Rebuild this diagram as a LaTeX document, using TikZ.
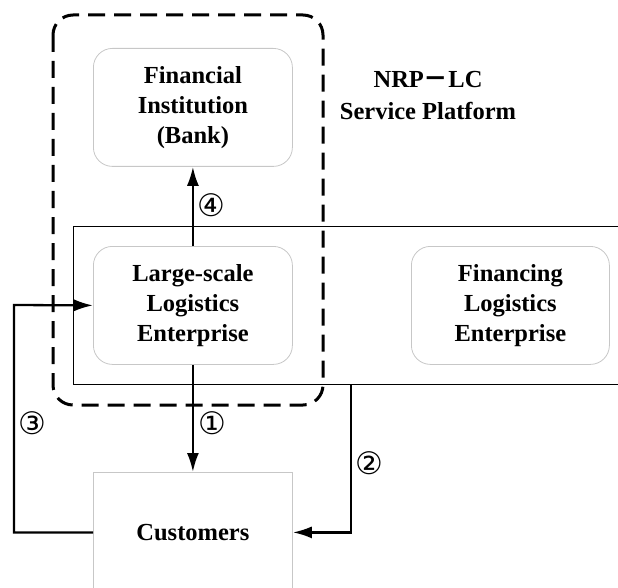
\documentclass[tikz,border=0pt]{standalone}
\usepackage{fontspec}
\setmainfont{Liberation Serif}
\newfontfamily\circfont{DejaVu Sans}
\newfontfamily\cjkfont{Noto Sans CJK SC}
\usetikzlibrary{arrows.meta}
\begin{document}
\begin{tikzpicture}[x=1pt,y=-1pt,
  lbl/.style={font=\fontsize{24.5}{30}\selectfont\bfseries, align=center},
  rbox/.style={draw=black!22, line width=0.8pt, rounded corners=19pt, inner sep=0pt, anchor=north west, lbl},
  arr/.style={line width=2.3pt, -{Latex[length=19pt,width=12pt]}},
  num/.style={font=\circfont\fontsize{31}{31}\selectfont, inner sep=0pt},
  dashbox/.style={line width=3pt, dash pattern=on 17pt off 9pt, rounded corners=20pt}]
\clip (0,0) rectangle (618,588);
% platform rectangle (open on the right)
\node[draw, line width=1.3pt, minimum width=600pt, minimum height=158pt, anchor=north west, inner sep=0pt] (plat) at (73,226) {};
% boxes
\node[rbox, minimum width=199pt, minimum height=118pt] (fin) at (93,48) {Financial\\Institution\\(Bank)};
\node[rbox, minimum width=199pt, minimum height=118pt] (lse) at (93,246) {Large-scale\\Logistics\\Enterprise};
\node[rbox, minimum width=198pt, minimum height=118pt] (fle) at (411,246) {Financing\\Logistics\\Enterprise};
\node[draw=black!22, line width=0.8pt, inner sep=0pt, anchor=north west, lbl, minimum width=199pt, minimum height=120pt] (cust) at (93,472) {Customers};
% platform title
\node[lbl, font=\fontsize{24.5}{32}\selectfont\bfseries] (ptitle) at (428,96) {NRP{\cjkfont\bfseries －}LC\\Service Platform};
% dashed group
\draw[dashbox] (53,15) rectangle (323,405);
% connectors
\draw[arr] (lse.north) -- (fin.south);
\draw[arr] (lse.south) -- (cust.north);
\coordinate (c2) at (351,384);
\draw[arr] (c2) |- (cust.east);
\coordinate (c3) at (14,305);
\draw[arr] (cust.west) -| (c3) -- (lse.west);
% labels
\node[num] (n4) at (211,205) {④};
\node[num] (n1) at (212,423) {①};
\node[num] (n3) at (32,423) {③};
\node[num] (n2) at (369,463) {②};
\end{tikzpicture}
\end{document}
